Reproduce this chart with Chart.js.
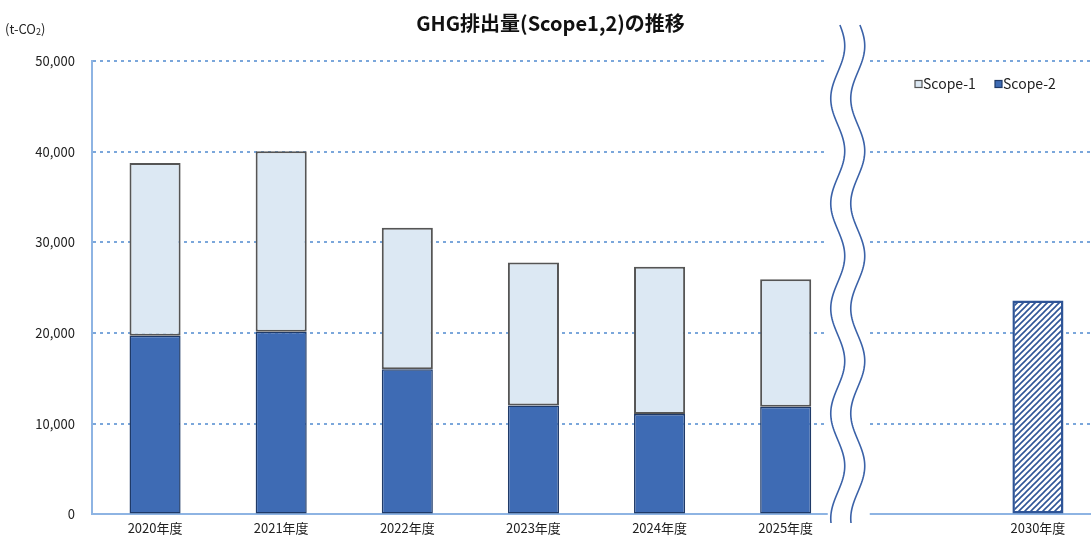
<!DOCTYPE html>
<html lang="ja">
<head>
<meta charset="utf-8">
<script src="https://cdn.jsdelivr.net/npm/chart.js@4/dist/chart.umd.min.js"></script>
<style>
  html, body { margin: 0; padding: 0; background: #fff; overflow: hidden; }
  #wrap { position: relative; width: 1101px; height: 542px; }
</style>
</head>
<body>
<div id="wrap"><canvas id="ghg-chart"></canvas></div>
<script>
// fiscal years; the blank slot sits where the axis is broken
const categories = ['2020年度', '2021年度', '2022年度', '2023年度', '2024年度', '2025年度', '', '2030年度'];
const scope2Values = [19700, 20130, 16000, 12020, 11060, 11880, null, null];
const scope1Values = [19050, 19920, 15600, 15750, 16260, 14040, null, null];
const target2030 = [null, null, null, null, null, null, null, 23600];
const yTicks = [0, 10000, 20000, 30000, 40000, 50000];

const gridBlue = '#7ba7db';
const axisBlue = '#8eb4e3';
const fontFamily = '"Noto Sans CJK JP", "Noto Sans", sans-serif';

Chart.defaults.font.family = fontFamily;
Chart.defaults.color = '#222';

function makeHatch() {
    const c = document.createElement('canvas');
    c.width = 6;
    c.height = 6;
    const g = c.getContext('2d');
    g.fillStyle = '#fff';
    g.fillRect(0, 0, 6, 6);
    g.strokeStyle = '#2f5597';
    g.lineWidth = 1.6;
    g.beginPath();
    g.moveTo(0, 6); g.lineTo(6, 0);
    g.moveTo(-1, 1); g.lineTo(1, -1);
    g.moveTo(5, 7); g.lineTo(7, 5);
    g.stroke();
    return g.createPattern(c, 'repeat');
}

// white gap + two wavy lines between 2025 and the 2030 slot
const axisBreak = {
    id: 'axisBreak',
    afterDraw(chart) {
        const { ctx, chartArea, scales } = chart;
        const xb = (scales.x.getPixelForValue(5) + scales.x.getPixelForValue(6)) / 2;
        ctx.save();
        ctx.fillStyle = '#fff';
        ctx.fillRect(xb - 21, chartArea.top - 6, 42, chartArea.bottom - chartArea.top + 12);
        ctx.strokeStyle = '#3b62a8';
        ctx.lineWidth = 1.6;
        [xb - 11, xb + 9].forEach(xc => {
            ctx.beginPath();
            for (let y = 25; y <= 524; y += 2) {
                const x = xc + 7 * Math.cos(2 * Math.PI * (y - 151) / 105);
                if (y === 25) ctx.moveTo(x, y); else ctx.lineTo(x, y);
            }
            ctx.stroke();
        });
        ctx.restore();
    }
};

// unit label and legend inside the plot
const extras = {
    id: 'extras',
    afterDraw(chart) {
        const { ctx, chartArea } = chart;
        ctx.save();
        ctx.fillStyle = '#222';
        ctx.textBaseline = 'alphabetic';
        ctx.textAlign = 'left';
        ctx.font = '13px ' + fontFamily;
        ctx.fillText('(t-CO', 5, 34);
        let ux = 5 + ctx.measureText('(t-CO').width;
        ctx.font = '9px ' + fontFamily;
        ctx.fillText('2', ux, 35);
        ux += ctx.measureText('2').width;
        ctx.font = '13px ' + fontFamily;
        ctx.fillText(')', ux, 34);

        const items = [
            { label: 'Scope-1', fill: '#dce8f3', stroke: '#555' },
            { label: 'Scope-2', fill: '#3e6bb4', stroke: '#1f3a68' }
        ];
        let x = chartArea.right - 186;
        const y = 84;
        ctx.textBaseline = 'middle';
        ctx.font = '14px ' + fontFamily;
        items.forEach(it => {
            ctx.fillStyle = it.fill;
            ctx.strokeStyle = it.stroke;
            ctx.lineWidth = 1.2;
            ctx.fillRect(x, y - 3.5, 7, 7);
            ctx.strokeRect(x, y - 3.5, 7, 7);
            ctx.fillStyle = '#222';
            ctx.fillText(it.label, x + 8, y);
            x += 80;
        });
        ctx.restore();
    }
};

new Chart(document.getElementById('ghg-chart'), {
    type: 'bar',
    data: {
        labels: categories,
        datasets: [
            {
                label: 'Scope-2',
                data: scope2Values,
                backgroundColor: '#3e6bb4',
                borderColor: '#1f3a68',
                borderWidth: 1.5,
                borderSkipped: false,
                stack: 'ghg'
            },
            {
                label: 'Scope-1',
                data: scope1Values,
                backgroundColor: '#dce8f3',
                borderColor: '#555',
                borderWidth: 2,
                borderSkipped: false,
                stack: 'ghg'
            },
            {
                label: '2030目標',
                data: target2030,
                backgroundColor: makeHatch(),
                borderColor: '#2f5597',
                borderWidth: 2.5,
                borderSkipped: false,
                stack: 'ghg'
            }
        ]
    },
    options: {
        responsive: true,
        maintainAspectRatio: false,
        animation: false,
        layout: { padding: { left: 0, right: 0, top: 0, bottom: 0 } },
        datasets: { bar: { barPercentage: 0.405, categoryPercentage: 1 } },
        plugins: {
            legend: { display: false },
            tooltip: { enabled: false },
            title: {
                display: true,
                text: 'GHG排出量(Scope1,2)の推移',
                color: '#111',
                font: { size: 20, weight: 'bold' },
                padding: { top: 11, bottom: 26 }
            }
        },
        scales: {
            x: {
                stacked: true,
                grid: { display: false, drawTicks: false },
                border: { display: true, color: axisBlue, width: 2 },
                ticks: { padding: 6, font: { size: 13 }, color: '#222', maxRotation: 0, autoSkip: false }
            },
            y: {
                stacked: true,
                min: yTicks[0],
                max: yTicks[yTicks.length - 1],
                afterFit(scale) { scale.width = 92; },
                afterBuildTicks(scale) { scale.ticks = yTicks.map(v => ({ value: v })); },
                grid: {
                    drawTicks: false,
                    lineWidth: 2,
                    color: c => (c.tick && c.tick.value === 0 ? 'rgba(0,0,0,0)' : gridBlue)
                },
                border: { display: true, color: axisBlue, width: 2, dash: [3, 4] },
                ticks: { padding: 17, font: { size: 13 }, color: '#222' }
            }
        }
    },
    plugins: [axisBreak, extras]
});
</script>
</body>
</html>
